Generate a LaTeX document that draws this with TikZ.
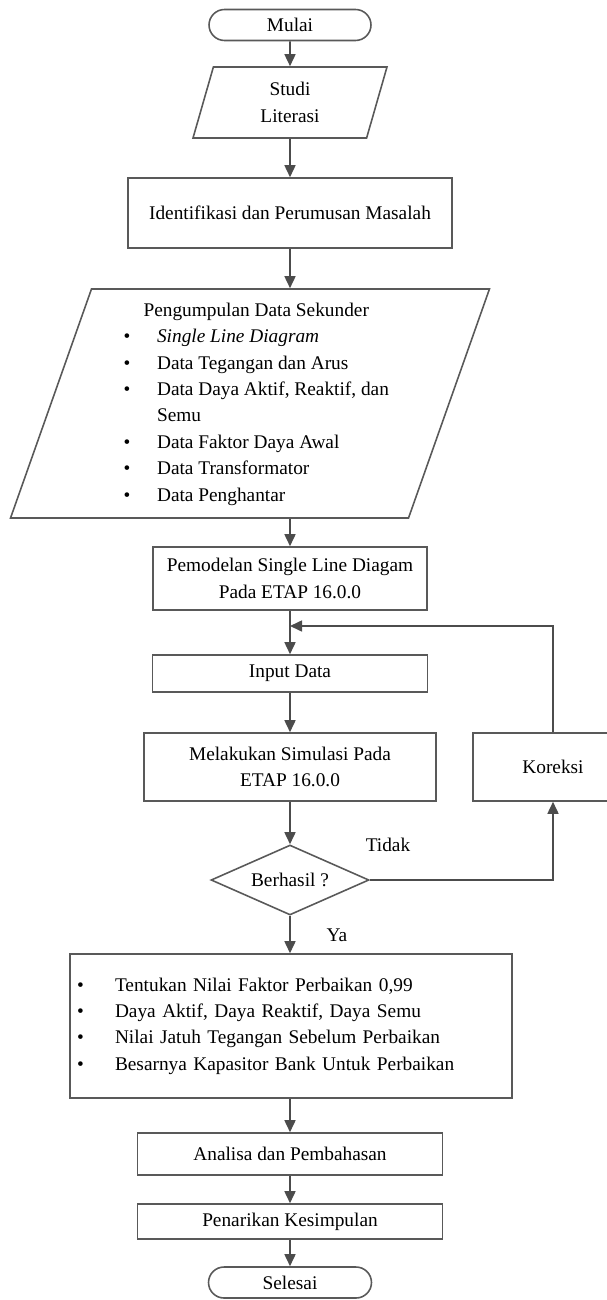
\documentclass[tikz,border=0pt]{standalone}
\usepackage{fontspec}
\setmainfont{Liberation Serif}
\usetikzlibrary{arrows.meta,shapes.geometric}

\begin{document}
\begin{tikzpicture}[x=0.02cm, y=-0.02cm,
	every node/.style={font=\fontsize{11}{15}\selectfont, text=black},
	>={Triangle[length=2.4mm, width=2.2mm]},
	line/.style={draw=black!65, line width=0.9pt},
	proc/.style={line, rectangle, align=center, inner sep=2pt},
	term/.style={line, rectangle, rounded corners=0.31cm, minimum width=3.24cm, minimum height=0.62cm, inner sep=0pt},
	io/.style={line, trapezium, trapezium stretches body, align=center, inner sep=0pt},
	dec/.style={line, diamond, aspect=2.26, inner sep=0pt},
	arr/.style={->, draw=black!70, line width=0.9pt}]
	\useasboundingbox (0,0) rectangle (607,1300);
	\node[term] (mulai) at (290,25) {Mulai};
	\node[io, trapezium left angle=63, trapezium right angle=117, minimum width=3.88cm, minimum height=1.42cm] (studi) at (290,102.5) {Studi\\Literasi};
	\node[proc, minimum width=6.48cm, minimum height=1.4cm] (ident) at (290,213) {Identifikasi dan Perumusan Masalah};
	\node[io, trapezium left angle=69, trapezium right angle=111, minimum width=9.58cm, minimum height=4.58cm] (data) at (250,403.5) {%
		\hspace*{0.25cm}\begin{tabular}{@{}p{0.67cm}@{}l@{}}
			\multicolumn{2}{@{}c@{}}{Pengumpulan Data Sekunder}\\
			\textbullet & \textit{Single Line Diagram}\\
			\textbullet & Data Tegangan dan Arus\\
			\textbullet & Data Daya Aktif, Reaktif, dan\\
			& Semu\\
			\textbullet & Data Faktor Daya Awal\\
			\textbullet & Data Transformator\\
			\textbullet & Data Penghantar
		\end{tabular}};
	\node[proc, minimum width=5.48cm, minimum height=1.26cm] (model) at (290,578.5) {Pemodelan Single Line Diagam\\Pada ETAP 16.0.0};
	\node[proc, minimum width=5.5cm, minimum height=0.74cm] (input) at (290,673.5) {Input Data};
	\node[proc, minimum width=5.84cm, minimum height=1.36cm] (simul) at (290,767) {Melakukan Simulasi Pada\\ETAP 16.0.0};
	\node[proc, minimum width=3.2cm, minimum height=1.36cm] (koreksi) at (553,767) {Koreksi};
	\node[dec, minimum width=3.16cm, minimum height=1.4cm] (cek) at (290,880) {Berhasil ?};
	\node[proc, align=left, text width=8.56cm, inner xsep=0.14cm, minimum height=2.88cm] (hasil) at (291,1026) {%
		\makebox[0.76cm][l]{\textbullet}Tentukan Nilai Faktor Perbaikan 0,99\\
		\makebox[0.76cm][l]{\textbullet}Daya Aktif, Daya Reaktif, Daya Semu\\
		\makebox[0.76cm][l]{\textbullet}Nilai Jatuh Tegangan Sebelum Perbaikan\\
		\makebox[0.76cm][l]{\textbullet}Besarnya Kapasitor Bank Untuk Perbaikan};
	\node[proc, minimum width=6.1cm, minimum height=0.84cm] (analisa) at (290,1154) {Analisa dan Pembahasan};
	\node[proc, minimum width=6.1cm, minimum height=0.7cm] (tarik) at (290,1221.5) {Penarikan Kesimpulan};
	\node[term, minimum width=3.26cm] (selesai) at (290,1282.5) {Selesai};
	\node (tidak) at (388,845) {Tidak};
	\node (ya) at (337,935) {Ya};
	\coordinate (balik) at (290,626);
	\draw[arr] (mulai) -- (studi);
	\draw[arr] (studi) -- (ident);
	\draw[arr] (ident.south) -- (ident.south |- data.north);
	\draw[arr] (model |- data.south) -- (model);
	\draw[arr] (model) -- (input);
	\draw[arr] (input) -- (simul);
	\draw[arr] (simul) -- (cek);
	\draw[arr] (cek.south) -- (cek.south |- hasil.north);
	\draw[arr] (hasil.south -| analisa) -- (analisa);
	\draw[arr] (analisa) -- (tarik);
	\draw[arr] (tarik) -- (selesai);
	\draw[arr] (koreksi.north) |- (balik);
	\draw[arr] (cek.east) -| (koreksi.south);
\end{tikzpicture}
\end{document}
